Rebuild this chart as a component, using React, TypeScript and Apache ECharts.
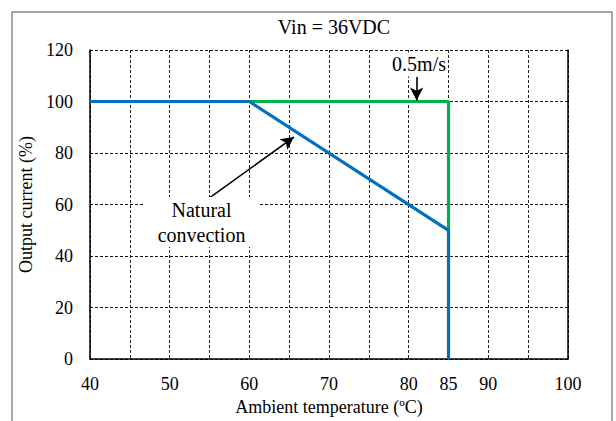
import React, { useEffect, useRef } from "react";
import * as echarts from "echarts";

const titleText = "Vin = 36VDC";
const xAxisName = "Ambient temperature (ºC)";
const yAxisName = "Output current (%)";
const xShownLabels = [40, 50, 60, 70, 80, 85, 90, 100];

const naturalConvection: [number, number][] = [
  [40, 100],
  [60, 100],
  [85, 50],
  [85, 0],
];
const airflow05: [number, number][] = [
  [60, 100],
  [85, 100],
  [85, 50],
];

const naturalLabel = "Natural\nconvection";
const naturalLabelPos: [number, number] = [54.0, 53.2];
const naturalArrowFrom: [number, number] = [55.0, 62.6];
const naturalArrowTo: [number, number] = [65.6, 86.2];

const airLabel = "0.5m/s";
const airLabelPos: [number, number] = [81.3, 114.4];
const airArrowFrom: [number, number] = [81.0, 109.5];
const airArrowTo: [number, number] = [81.0, 100.4];

const FONT = "'Liberation Serif', 'Times New Roman', serif";

export default function App() {
  const ref = useRef<HTMLDivElement>(null);
  useEffect(() => {
    if (!ref.current) return;
    const chart = echarts.init(ref.current, undefined, { renderer: "svg" });
    const grid = { left: 90, right: 48, top: 50, bottom: 54 };
    chart.setOption({
      animation: false,
      backgroundColor: "#fff",
      textStyle: { fontFamily: FONT },
      title: {
        text: titleText,
        left: 329,
        top: 12,
        textAlign: "center",
        textStyle: { fontFamily: FONT, fontSize: 20, fontWeight: "normal", color: "#000" },
      },
      grid,
      graphic: [
        {
          type: "rect",
          shape: { x: 12, y: 12, width: 600, height: 430 },
          style: { fill: "none", stroke: "#8c8c8c", lineWidth: 1.5 },
          silent: true,
          z: 0,
        },
      ],
      xAxis: {
        type: "value",
        min: 40,
        max: 100,
        interval: 5,
        name: xAxisName,
        nameLocation: "middle",
        nameGap: 36,
        nameTextStyle: { fontFamily: FONT, fontSize: 18, color: "#000" },
        axisLine: { show: true, onZero: false, lineStyle: { color: "#000", width: 1.5 } },
        axisTick: { show: false },
        axisLabel: {
          margin: 16,
          fontFamily: FONT,
          fontSize: 18,
          color: "#000",
          formatter: (v: number) => (xShownLabels.includes(v) ? String(v) : ""),
        },
        splitLine: { show: true, lineStyle: { color: "#222", type: [3, 2], width: 1 } },
      },
      yAxis: [
        {
          type: "value",
          min: 0,
          max: 120,
          interval: 20,
          name: yAxisName,
          nameLocation: "middle",
          nameGap: 46,
          nameRotate: 90,
          nameTextStyle: { fontFamily: FONT, fontSize: 18, color: "#000" },
          axisLine: { show: true, onZero: false, lineStyle: { color: "#000", width: 1.5 } },
          axisTick: { show: false },
          axisLabel: { margin: 17, fontFamily: FONT, fontSize: 18, color: "#000" },
          splitLine: { show: true, lineStyle: { color: "#111", type: [3, 2], width: 1 } },
        },
        {
          type: "value",
          min: 0,
          max: 120,
          interval: 20,
          position: "right",
          axisLine: { show: true, onZero: false, lineStyle: { color: "#000", width: 1.5 } },
          axisTick: { show: false },
          axisLabel: { show: false },
          splitLine: { show: false },
        },
      ],
      series: [
        {
          type: "line",
          data: airflow05,
          showSymbol: false,
          symbol: "none",
          lineStyle: { color: "#00b050", width: 3.2 },
          z: 3,
          silent: true,
        },
        {
          type: "line",
          data: naturalConvection,
          showSymbol: false,
          symbol: "none",
          lineStyle: { color: "#0070c0", width: 3.2 },
          z: 4,
          silent: true,
          markPoint: {
            silent: true,
            symbol: "rect",
            symbolSize: 0,
            data: [
              {
                coord: naturalLabelPos,
                label: {
                  show: true,
                  position: "inside",
                  formatter: naturalLabel,
                  fontFamily: FONT,
                  fontSize: 20,
                  lineHeight: 25,
                  color: "#000",
                  backgroundColor: "#fff",
                  padding: [0, 14],
                  align: "center",
                },
              },
              {
                coord: airLabelPos,
                label: {
                  show: true,
                  position: "inside",
                  formatter: airLabel,
                  fontFamily: FONT,
                  fontSize: 20,
                  lineHeight: 24,
                  color: "#000",
                  backgroundColor: "#fff",
                  padding: [0, 1],
                },
              },
            ],
          },
          markLine: {
            silent: true,
            symbol: ["none", "arrow"],
            symbolSize: [10, 13],
            label: { show: false },
            lineStyle: { color: "#000", width: 1.6, type: "solid" },
            data: [
              [{ coord: naturalArrowFrom }, { coord: naturalArrowTo }],
              [{ coord: airArrowFrom }, { coord: airArrowTo }],
            ],
          },
        },
      ],
    });
    return () => chart.dispose();
  }, []);
  return (
    <div
      ref={ref}
      style={{ position: "fixed", left: 0, top: 0, width: 616, height: 421 }}
    />
  );
}
